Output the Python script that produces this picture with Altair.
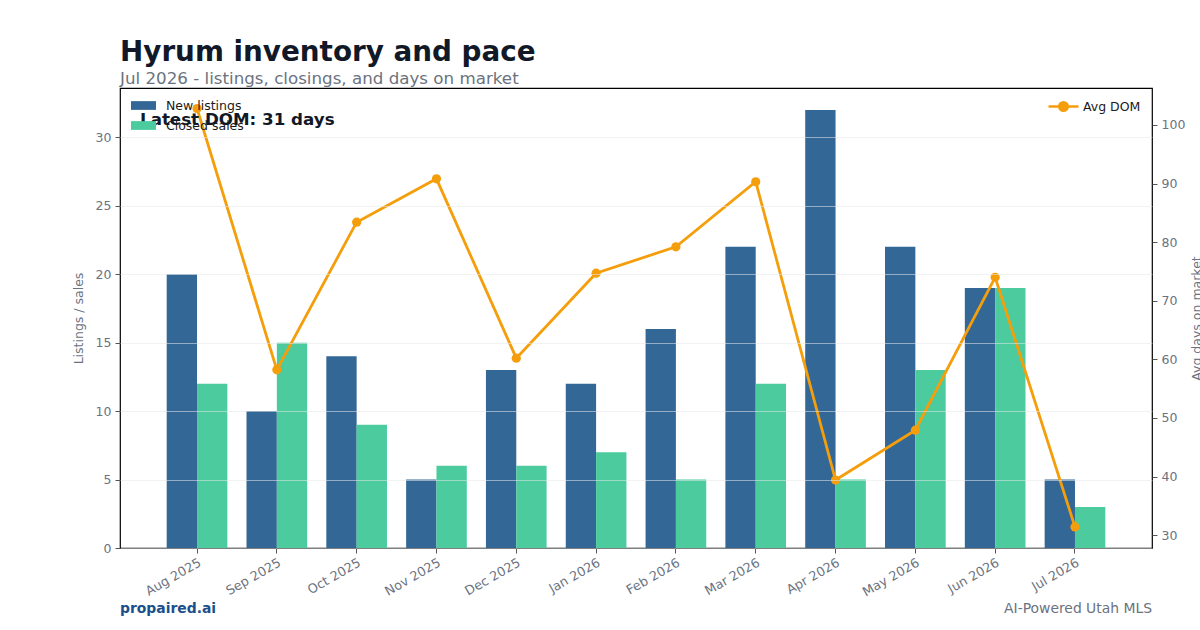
import altair as alt
import pandas as pd

# Monthly market figures for Hyrum
months = ["Aug 2025", "Sep 2025", "Oct 2025", "Nov 2025", "Dec 2025", "Jan 2026",
          "Feb 2026", "Mar 2026", "Apr 2026", "May 2026", "Jun 2026", "Jul 2026"]
new_listings = [20, 10, 14, 5, 13, 12, 16, 22, 32, 22, 19, 5]
closed_sales = [12, 15, 9, 6, 6, 7, 5, 12, 5, 13, 19, 3]
avg_dom = [102.8, 58.2, 83.4, 90.8, 60.2, 74.7, 79.2, 90.3, 39.4, 47.9, 74.0, 31.4]

series_names = ["New listings", "Closed sales"]
series_colors = ["#336796", "#4bcb9e"]
dom_color = "#f59e0b"
FONT = "DejaVu Sans"
GRAY = "#6b7280"

bars_df = pd.DataFrame(
    [{"month": m, "series": series_names[0], "value": v} for m, v in zip(months, new_listings)]
    + [{"month": m, "series": series_names[1], "value": v} for m, v in zip(months, closed_sales)]
)
dom_df = pd.DataFrame({"month": months, "dom": avg_dom, "metric": "Avg DOM"})
latest_df = pd.DataFrame({"label": [f"Latest DOM: {round(avg_dom[-1])} days"]})
footer_df = pd.DataFrame({"left": ["propaired.ai"], "right": ["AI-Powered Utah MLS"]})

W, H = 1032, 460

x_enc = alt.X(
    "month:N", sort=months, title=None,
    scale=alt.Scale(paddingInner=0.24, paddingOuter=0.585),
    axis=alt.Axis(labelAngle=330, labelAlign="right", labelBaseline="top",
                  labelPadding=3, tickSize=5, labelFontSize=12.8),
)

bars = alt.Chart(bars_df).mark_bar().encode(
    x=x_enc,
    xOffset=alt.XOffset("series:N", sort=series_names),
    y=alt.Y("value:Q", title="Listings / sales",
            scale=alt.Scale(domain=[0, 33.6], nice=False),
            axis=alt.Axis(values=[0, 5, 10, 15, 20, 25, 30], grid=True,
                          gridColor="#e5e7eb", gridOpacity=0.55, zindex=1,
                          titlePadding=10)),
    color=alt.Color("series:N", sort=series_names,
                    scale=alt.Scale(domain=series_names, range=series_colors),
                    legend=alt.Legend(orient="none", legendX=11, legendY=5, title=None,
                                      symbolType="M-1,-0.35H1V0.35H-1Z", symbolSize=625,
                                      symbolStrokeWidth=0, labelFontSize=12.5,
                                      labelColor="#1a1a1a", labelOffset=10,
                                      rowPadding=1, padding=0)),
)

dom_line = alt.Chart(dom_df).mark_line(
    strokeWidth=2.8, color=dom_color,
    point=alt.OverlayMarkDef(filled=True, size=85, color=dom_color),
).encode(
    x=alt.X("month:N", sort=months),
    y=alt.Y("dom:Q", title="Avg days on market",
            scale=alt.Scale(domain=[27.8, 106.3], nice=False, zero=False),
            axis=alt.Axis(orient="right", values=[30, 40, 50, 60, 70, 80, 90, 100],
                          grid=False, titleAngle=270, titlePadding=19)),
    color=alt.Color("metric:N", scale=alt.Scale(domain=["Avg DOM"], range=[dom_color]),
                    legend=alt.Legend(orient="none", legendX=927, legendY=2, title=None,
                                      symbolType="M-1,0H1M0.28,0A0.28,0.28 0 1,1 -0.28,0A0.28,0.28 0 1,1 0.28,0",
                                      symbolSize=900, symbolStrokeWidth=2.6,
                                      symbolFillColor=dom_color, symbolStrokeColor=dom_color,
                                      labelFontSize=12.5, labelColor="#1a1a1a",
                                      labelOffset=3, padding=0)),
)

latest = alt.Chart(latest_df).mark_text(
    align="left", baseline="middle", font=FONT, fontSize=16.7,
    fontWeight="bold", color="#111827",
).encode(x=alt.value(20), y=alt.value(32), text="label:N")

footer_left = alt.Chart(footer_df).mark_text(
    align="left", baseline="middle", font=FONT, fontSize=13.9,
    fontWeight="bold", color="#1a4f8b",
).encode(x=alt.value(0), y=alt.value(H + 61), text="left:N")

footer_right = alt.Chart(footer_df).mark_text(
    align="right", baseline="middle", font=FONT, fontSize=13.9, color=GRAY,
).encode(x=alt.value(W), y=alt.value(H + 61), text="right:N")

chart = (
    alt.layer(bars, dom_line, latest, footer_left, footer_right)
    .resolve_scale(y="independent", color="independent")
    .properties(
        width=W, height=H,
        autosize=alt.AutoSizeParams(type="none"),
        padding={"left": 120, "top": 88, "right": 48, "bottom": 82},
        title=alt.TitleParams(
            text="Hyrum inventory and pace",
            subtitle="Jul 2026 - listings, closings, and days on market",
            anchor="start", frame="group", font=FONT, fontSize=27.8,
            fontWeight="bold", color="#111827", subtitleFont=FONT,
            subtitleFontSize=16.7, subtitleColor=GRAY, subtitlePadding=5, offset=0,
        ),
    )
    .configure(font=FONT, background="white")
    .configure_view(stroke="#000000", strokeWidth=1.2)
    .configure_axis(labelFont=FONT, titleFont=FONT, labelColor=GRAY, titleColor=GRAY,
                    labelFontSize=12.5, titleFontSize=12.5, titleFontWeight="normal",
                    tickColor="#555555", tickSize=5, domain=False, labelPadding=4)
    .configure_legend(labelFont=FONT)
)

chart.save("out.html", embed_options={"renderer": "svg", "actions": False})
